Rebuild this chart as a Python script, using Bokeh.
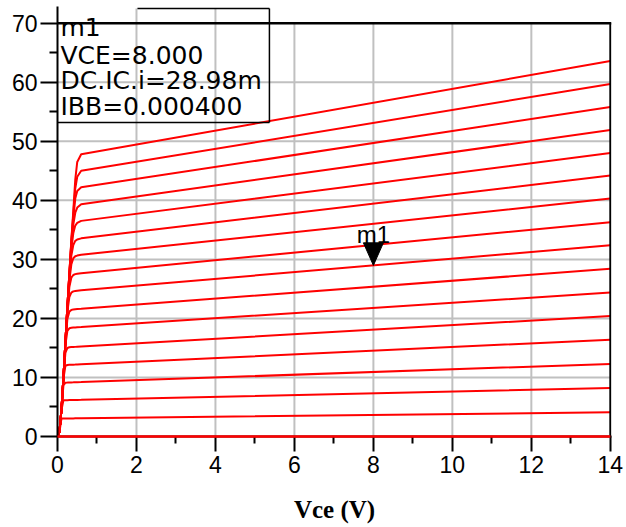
from bokeh.plotting import figure
from bokeh.models import FixedTicker, Span, Label, Range1d
from bokeh.embed import file_html
from bokeh.resources import INLINE

# ---- data ----
vce = [0, 0.05, 0.1, 0.15, 0.2, 0.25, 0.3, 0.35, 0.4, 0.45, 0.5, 0.6, 14]
ib_ma = [0.05, 0.10, 0.15, 0.20, 0.25, 0.30, 0.35, 0.40, 0.45, 0.50, 0.55, 0.60, 0.65, 0.70, 0.75, 0.80]
ic_00 = [0, 0, 0, 0, 0, 0, 0, 0, 0, 0, 0, 0, 0]
ic_01 = [0, 0.8, 3.04, 3.05, 3.05, 3.06, 3.06, 3.06, 3.06, 3.07, 3.07, 3.08, 4.1]
ic_02 = [0, 0.8, 4.46, 6.13, 6.15, 6.16, 6.17, 6.18, 6.19, 6.19, 6.2, 6.21, 8.2]
ic_03 = [0, 0.8, 4.5, 8.65, 9.12, 9.13, 9.15, 9.16, 9.17, 9.19, 9.2, 9.22, 12.3]
ic_04 = [0, 0.8, 4.5, 9.77, 11.95, 12.11, 12.14, 12.15, 12.17, 12.18, 12.2, 12.23, 16.4]
ic_05 = [0, 0.8, 4.5, 9.96, 14.15, 15.0, 15.12, 15.14, 15.16, 15.18, 15.2, 15.24, 20.4]
ic_06 = [0, 0.8, 4.5, 10, 15.46, 17.9, 18.33, 18.41, 18.46, 18.48, 18.5, 18.54, 24.4]
ic_07 = [0, 0.8, 4.5, 10, 15.82, 19.9, 21.15, 21.43, 21.53, 21.57, 21.6, 21.65, 28.4]
ic_08 = [0, 0.8, 4.5, 10, 15.94, 21.1, 23.6, 24.36, 24.58, 24.65, 24.7, 24.76, 32.4]
ic_09 = [0, 0.8, 4.5, 10, 16, 21.58, 25.3, 26.9, 27.35, 27.5, 27.58, 27.66, 36.3]
ic_10 = [0, 0.8, 4.5, 10, 16, 21.8, 26.39, 29.13, 30.18, 30.52, 30.64, 30.77, 40.3]
ic_11 = [0, 0.8, 4.5, 10, 16, 21.91, 26.91, 30.6, 32.43, 33.13, 33.37, 33.56, 44.2]
ic_12 = [0, 0.8, 4.5, 10, 16, 22, 27.27, 31.76, 34.42, 35.73, 36.17, 36.52, 48.0]
ic_13 = [0, 0.8, 4.5, 10, 16, 22, 27.41, 32.4, 35.9, 37.9, 38.77, 39.35, 51.9]
ic_14 = [0, 0.8, 4.5, 10, 16, 22, 27.49, 32.8, 36.93, 40.3, 41.6, 42.2, 55.8]
ic_15 = [0, 0.8, 4.5, 10, 16, 22, 27.53, 33.03, 37.67, 42.0, 44.0, 45.0, 59.7]
ic_16 = [0, 0.8, 4.5, 10, 16, 22, 27.55, 33.17, 38.18, 43.5, 46.5, 47.8, 63.6]

x_ticks = [0, 2, 4, 6, 8, 10, 12, 14]
x_minor = [1, 3, 5, 7, 9, 11, 13]
y_ticks = [0, 10, 20, 30, 40, 50, 60, 70]
y_minor = [5, 15, 25, 35, 45, 55, 65]
x_title = "Vce (V)"

m1_vce = 8.0
m1_ic = 28.98
m1_ibb = 0.000400

curves = [ic_00, ic_01, ic_02, ic_03, ic_04, ic_05, ic_06, ic_07, ic_08,
          ic_09, ic_10, ic_11, ic_12, ic_13, ic_14, ic_15, ic_16]

# ---- figure ----
p = figure(width=626, height=527, output_backend="svg", toolbar_location=None,
           x_range=Range1d(0, 14.03), y_range=Range1d(0, 72.83),
           min_border_left=57, min_border_right=15, min_border_top=6,
           min_border_bottom=91, title=None)
p.outline_line_color = None
p.xgrid.visible = False
p.ygrid.visible = False
p.background_fill_color = "white"
p.border_fill_color = "white"

GRID = "#c0c0c0"
# grid lines (inside the frame up to y=70)
p.segment(x0=x_ticks[1:-1], y0=[y_ticks[0]] * 6, x1=x_ticks[1:-1], y1=[y_ticks[-1]] * 6,
          line_color=GRID, line_width=2)
p.segment(x0=[x_ticks[0]] * 6, y0=y_ticks[1:-1], x1=[x_ticks[-1]] * 6, y1=y_ticks[1:-1],
          line_color=GRID, line_width=2)

# marker readout box (layout)
box_top, box_bot, box_right, box_top_left = 72.49, 53.2, 5.367, 2.025
p.segment(x0=x_ticks[1:3], y0=[y_ticks[-1]] * 2, x1=x_ticks[1:3], y1=[box_top] * 2,
          line_color=GRID, line_width=2)

for c in curves[1:]:
    p.line(vce, c, line_color="#ff0000", line_width=2)
zero = p.line(vce, ic_00, line_color="#ff0000", line_width=2.5)
zero.level = "overlay"

# frame: top line at 70 and right border
p.add_layout(Span(location=y_ticks[-1], dimension="width", line_color="black", line_width=2.5))
p.segment(x0=[x_ticks[-1]], y0=[y_ticks[0]], x1=[x_ticks[-1]], y1=[y_ticks[-1]],
          line_color="black", line_width=2)

p.segment(x0=[box_top_left, box_right, 0], y0=[box_top, box_top, box_bot],
          x1=[box_right, box_right, box_right], y1=[box_top, box_bot, box_bot],
          line_color="black", line_width=1.5)

# marker triangle (tip at the marker point)
tri_w, tri_h = 0.253, 3.82
p.patch([m1_vce - tri_w, m1_vce + tri_w, m1_vce], [m1_ic + tri_h, m1_ic + tri_h, m1_ic],
        fill_color="black", line_color="black", line_width=1)
p.add_layout(Label(x=m1_vce, y=m1_ic + 5.2, text="m1", text_align="center",
                   text_baseline="alphabetic", text_font="Liberation Sans",
                   text_font_size="24px", text_color="black"))

legend_lines = ["m1", f"VCE={m1_vce:.3f}", f"DC.IC.i={m1_ic:.2f}m", f"IBB={m1_ibb:.6f}"]
legend_y = [69.2, 64.5, 60.3, 55.95]
for t, yy in zip(legend_lines, legend_y):
    p.add_layout(Label(x=0, y=yy, x_offset=3, text=t, text_align="left",
                       text_baseline="alphabetic", text_font="DejaVu Sans",
                       text_font_size="25px", text_color="black"))

# axes
for ax, tk, mn, out, mout, st in ((p.xaxis, x_ticks, x_minor, 15, 7, 4),
                                  (p.yaxis, y_ticks, y_minor, 17, 8, 3)):
    ax.ticker = FixedTicker(ticks=tk, minor_ticks=mn)
    ax.axis_line_color = "black"
    ax.axis_line_width = 2
    ax.major_tick_in = 0
    ax.major_tick_out = out
    ax.minor_tick_in = 0
    ax.minor_tick_out = mout
    ax.major_tick_line_width = 2
    ax.minor_tick_line_width = 2
    ax.major_tick_line_color = "black"
    ax.minor_tick_line_color = "black"
    ax.major_label_text_font = "Liberation Sans"
    ax.major_label_text_font_size = "23px"
    ax.major_label_text_color = "black"
    ax.major_label_standoff = st

p.xaxis.axis_label = x_title
p.xaxis.axis_label_text_font = "Liberation Serif"
p.xaxis.axis_label_text_font_style = "bold"
p.xaxis.axis_label_text_font_size = "25px"
p.xaxis.axis_label_text_color = "black"
p.xaxis.axis_label_standoff = 20

open("out.html", "w").write(file_html(p, INLINE))
